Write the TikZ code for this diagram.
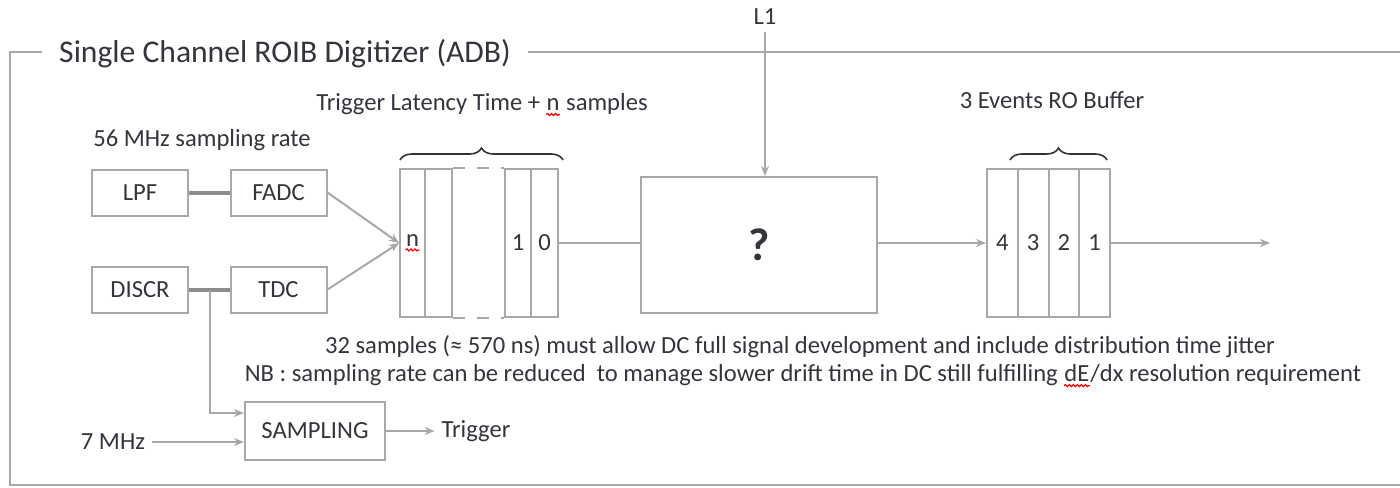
\documentclass[tikz,border=0pt]{standalone}
\usepackage{fontspec}
\setmainfont{Carlito}
\usetikzlibrary{arrows.meta,decorations.pathreplacing,decorations.pathmorphing}
\definecolor{linegray}{HTML}{A8A8A8}
\definecolor{darkwire}{HTML}{8C8C8C}
\definecolor{txtgray}{HTML}{34343C}

% red spell-check mark under a word
\newcommand{\spellmark}[1]{\tikz[baseline=(w.base)]{\node[draw=none,inner sep=0pt,minimum width=0pt,minimum height=0pt] (w) {#1};
  \draw[red,line width=0.6pt,decorate,decoration={snake,amplitude=0.5pt,segment length=2pt}]
    ([yshift=-1.6pt]w.south west) -- ([yshift=-1.6pt]w.south east);}}

\begin{document}
\begin{tikzpicture}[x=0.5pt,y=-0.5pt,
  font=\fontsize{12.3}{14}\selectfont, text=txtgray,
  box/.style={draw=linegray,line width=1pt,minimum width=48pt,minimum height=23pt,inner sep=0pt},
  cell/.style={draw=linegray,line width=1pt,minimum height=74pt,inner sep=0pt},
  wire/.style={linegray,line width=1pt},
  thickwire/.style={darkwire,line width=2pt},
  arr/.style={wire,-{Stealth[length=5pt,width=4pt]}},
  bracket/.style={black!80,line width=0.8pt,decorate,decoration={brace,amplitude=6pt}}]

\useasboundingbox (0,0) rectangle (1400,487);

% outer frame with title
\node[font=\fontsize{15.8}{18}\selectfont, inner xsep=8.5pt] (title) at (285,54) {Single Channel ROIB Digitizer (ADB)};
\draw[wire] (title.west |- 0,52) -- (10,52) -- (10,485) -- (1400,485);
\draw[wire] (title.east |- 0,52) -- (1400,52);

% input stage
\node at (202,140) {56 MHz sampling rate};
\node[box] (lpf) at (140,192.5) {LPF};
\node[box] (fadc) at (278.5,192.5) {FADC};
\node[box] (discr) at (140,289.5) {DISCR};
\node[box] (tdc) at (278.5,289.5) {TDC};
\draw[thickwire] (lpf) -- (fadc);
\draw[thickwire] (discr) -- (tdc);
\coordinate (tap) at (210,289.5);

% trigger path
\node[box,minimum width=70pt,minimum height=29pt] (samp) at (315,431) {SAMPLING};
\node (mhz) at (113,442) {7 MHz};
\node (trig) at (476,431) {Trigger};
\draw[arr] (tap) |- ([yshift=9pt]samp.west);
\draw[arr] (mhz.east) -- (mhz.east -| samp.west);
\draw[arr] (samp.east) -- (trig.west);

% latency pipeline
\node[cell,minimum width=12.5pt] (sn) at (412.5,243) {\spellmark{n}};
\node[cell,minimum width=13.5pt] (sm) at (438.5,243) {};
\node[cell,minimum width=13pt] (s1) at (518,243) {1};
\node[cell,minimum width=13.5pt] (s0) at (544.5,243) {0};
\draw[wire,dash pattern=on 6pt off 6pt] (sm.north east) -- (s1.north west);
\draw[wire,dash pattern=on 6pt off 6pt] (sm.south east) -- (s1.south west);
\draw[bracket] (400,160) -- (563,160);
\node at (482,105) {Trigger Latency Time + \spellmark{n} samples};
\draw[arr] (fadc.east) -- (sn.west);
\draw[arr] (tdc.east) -- (sn.west);

% unknown processing block
\node[box,minimum width=118pt,minimum height=68pt] (proc) at (759,245) {\fontsize{23}{25}\selectfont\bfseries ?};
\node (l1) at (765,17) {L1};
\draw[arr] (l1.south) -- (l1.south |- proc.north);
\draw[wire] (s0.east) -- (s0.east -| proc.west);

% read-out buffer
\node[cell,minimum width=15.4pt] (r4) at (1002.4,243) {4};
\node[cell,minimum width=15.4pt] (r3) at (1033.1,243) {3};
\node[cell,minimum width=15.4pt] (r2) at (1063.9,243) {2};
\node[cell,minimum width=15.4pt] (r1) at (1094.6,243) {1};
\draw[bracket] (1010,160) -- (1107,160);
\node at (1052,100) {3 Events RO Buffer};
\draw[arr] (proc.east |- r4.west) -- (r4.west);
\coordinate (out) at (1270,243);
\draw[arr] (r1.east) -- (out);

% notes
\node at (800,347) {32 samples (≈ 570 ns) must allow DC full signal development and include distribution time jitter};
\node at (803,376) {NB : sampling rate can be reduced\ \ to manage slower drift time in DC still fulfilling \spellmark{dE}/dx resolution requirement};

\end{tikzpicture}
\end{document}
